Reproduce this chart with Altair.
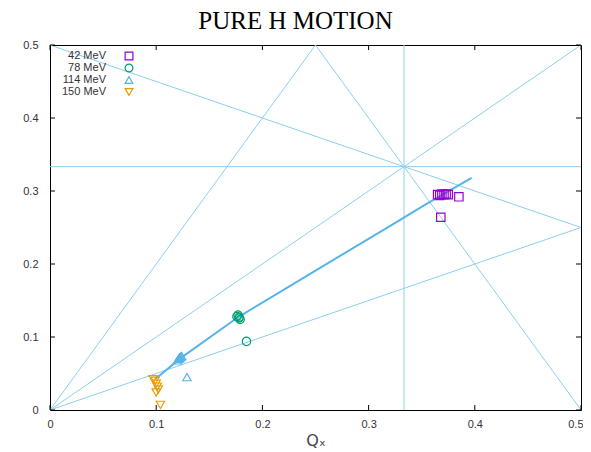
import altair as alt
import pandas as pd

title_text = "PURE H MOTION"
x_title = "Qₓ"

series = ["42 MeV", "78 MeV", "114 MeV", "150 MeV"]
colors = ["#9400D3", "#009E73", "#56B4E9", "#E69F00"]
shapes = ["square", "circle", "triangle-up", "triangle-down"]

qx_42 = [0.365, 0.367, 0.369, 0.371, 0.373, 0.375, 0.385, 0.368]
qy_42 = [0.295, 0.294, 0.296, 0.295, 0.296, 0.295, 0.292, 0.264]
qx_78 = [0.176, 0.177, 0.178, 0.179, 0.178, 0.185]
qy_78 = [0.128, 0.130, 0.126, 0.124, 0.127, 0.094]
qx_114 = [0.120, 0.121, 0.122, 0.123, 0.124, 0.122, 0.129]
qy_114 = [0.068, 0.070, 0.072, 0.073, 0.074, 0.071, 0.045]
qx_150 = [0.097, 0.099, 0.100, 0.101, 0.102, 0.100, 0.104]
qy_150 = [0.042, 0.040, 0.036, 0.032, 0.028, 0.024, 0.007]

fit_qx = [0.099, 0.122, 0.177, 0.25, 0.32, 0.353, 0.397]
fit_qy = [0.042, 0.070, 0.127, 0.191, 0.252, 0.281, 0.318]

# resonance line segments (start/end points)
res_x1 = [0.0, 0.0, 0.25, 1/3, 0.0, 0.0, 0.0]
res_y1 = [0.5, 0.0, 0.5, 0.0, 1/3, 0.0, 0.0]
res_x2 = [0.5, 0.25, 0.5, 1/3, 0.5, 0.5, 0.5]
res_y2 = [0.25, 0.5, 0.0, 0.5, 1/3, 0.5, 0.25]

tick_vals = [0, 0.1, 0.2, 0.3, 0.4, 0.5]

W, H = 531, 365

rows = []
for s, xs, ys in zip(series, [qx_42, qx_78, qx_114, qx_150], [qy_42, qy_78, qy_114, qy_150]):
    for a, b in zip(xs, ys):
        rows.append({"series": s, "qx": a, "qy": b})
pts = pd.DataFrame(rows)
fit = pd.DataFrame({"qx": fit_qx, "qy": fit_qy, "i": range(len(fit_qx))})
seg = pd.DataFrame({"qx": res_x1, "qy": res_y1, "qx2": res_x2, "qy2": res_y2})
ticks = pd.DataFrame({"v": tick_vals})
leg = pd.DataFrame({"series": series, "k": range(len(series))})

xscale = alt.Scale(domain=[0, 0.5], nice=False, zero=False)
yscale = alt.Scale(domain=[0, 0.5], nice=False, zero=False)
xaxis = alt.Axis(values=tick_vals, format="~g", title=x_title, ticks=False, domain=False,
                 grid=False, labelPadding=8, titlePadding=3, titleFontSize=16, labelFlush=False,
                 labelAlign={"condition": {"test": "datum.value >= 0.5", "value": "right"}, "value": "center"},
                 labelOffset={"condition": {"test": "datum.value >= 0.5", "value": 2}, "value": 0},
                 titleFont="DejaVu Sans", titleFontWeight="normal", titleColor="#444")
yaxis = alt.Axis(values=tick_vals, format="~g", title=None, ticks=False, domain=False,
                 grid=False, labelPadding=12, labelFlush=False)
cscale = alt.Scale(domain=series, range=colors)
sscale = alt.Scale(domain=series, range=shapes)

res = alt.Chart(seg).mark_rule(color="#8ccfee", strokeWidth=1).encode(
    x=alt.X("qx:Q", scale=xscale, axis=xaxis),
    y=alt.Y("qy:Q", scale=yscale, axis=yaxis),
    x2="qx2:Q", y2="qy2:Q")

fitline = alt.Chart(fit).mark_line(color="#56B4E9", strokeWidth=2).encode(
    x=alt.X("qx:Q", scale=xscale, axis=xaxis),
    y=alt.Y("qy:Q", scale=yscale, axis=yaxis),
    order="i:Q")

points = alt.Chart(pts).mark_point(filled=False, size=70, strokeWidth=1.2, opacity=1).encode(
    x=alt.X("qx:Q", scale=xscale, axis=xaxis),
    y=alt.Y("qy:Q", scale=yscale, axis=yaxis),
    color=alt.Color("series:N", scale=cscale, legend=None),
    shape=alt.Shape("series:N", scale=sscale, legend=None))

tick_b = alt.Chart(ticks).mark_rule(color="black").encode(
    x=alt.X("v:Q", scale=xscale, axis=xaxis), y=alt.value(H), y2=alt.value(H - 5))
tick_t = alt.Chart(ticks).mark_rule(color="black").encode(
    x=alt.X("v:Q", scale=xscale, axis=xaxis), y=alt.value(0), y2=alt.value(5))
tick_l = alt.Chart(ticks).mark_rule(color="black").encode(
    y=alt.Y("v:Q", scale=yscale, axis=yaxis), x=alt.value(0), x2=alt.value(5))
tick_r = alt.Chart(ticks).mark_rule(color="black").encode(
    y=alt.Y("v:Q", scale=yscale, axis=yaxis), x=alt.value(W), x2=alt.value(W - 5))

leg_base = alt.Chart(leg).transform_calculate(ly="11 + datum.k * 12")
leg_text = leg_base.mark_text(align="right", baseline="middle", fontSize=11,
                              font="Liberation Sans", color="#333").encode(
    x=alt.value(56), y=alt.Y("ly:Q", scale=None), text="series:N")
leg_sym = leg_base.mark_point(filled=False, size=60, strokeWidth=1.2, opacity=1).encode(
    x=alt.value(79), y=alt.Y("ly:Q", scale=None),
    color=alt.Color("series:N", scale=cscale, legend=None),
    shape=alt.Shape("series:N", scale=sscale, legend=None))

chart = alt.layer(res, fitline, points, tick_b, tick_t, tick_l, tick_r, leg_text, leg_sym).properties(
    width=W, height=H,
    title=alt.TitleParams(title_text, font="Liberation Serif", fontSize=25, fontWeight="normal",
                          color="black", anchor="middle", dx=-20, offset=5),
    autosize=alt.AutoSizeParams(type="none"),
    padding={"left": 42, "top": 37, "right": 2, "bottom": 42},
).configure_view(stroke="black", strokeWidth=1).configure_axis(
    labelFont="Liberation Sans", labelFontSize=11, labelColor="#333")

chart.save("out.html", embed_options={"renderer": "svg", "actions": False})
